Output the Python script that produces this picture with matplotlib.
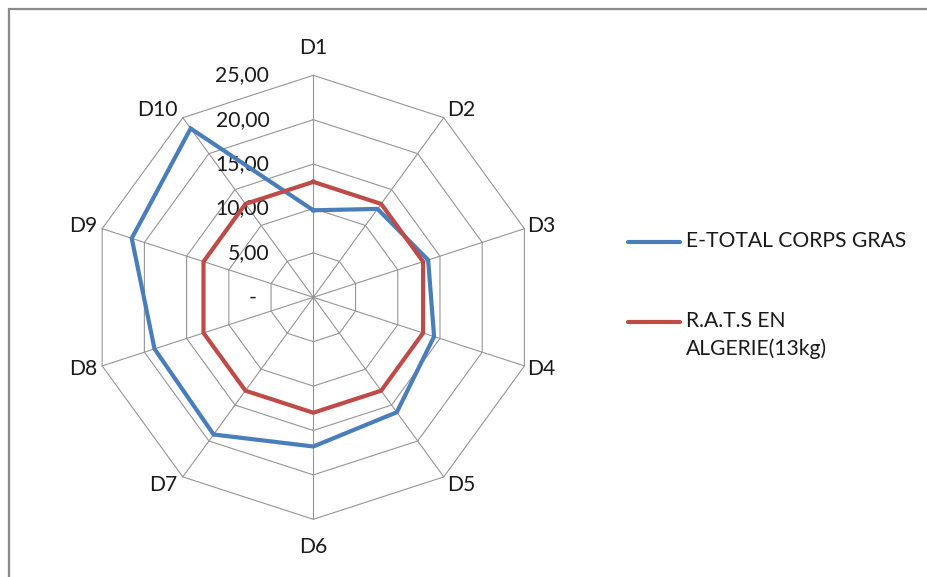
import numpy as np
import matplotlib.pyplot as plt
from matplotlib.patches import Rectangle
from matplotlib.transforms import ScaledTranslation

plt.rcParams['font.family'] = ['Lato', 'DejaVu Sans']

categories = ['D1', 'D2', 'D3', 'D4', 'D5', 'D6', 'D7', 'D8', 'D9', 'D10']
total_corps_gras = [9.8, 12.3, 13.6, 14.3, 16.0, 16.8, 19.1, 18.8, 21.5, 23.5]
rats_algerie = [13.0] * 10
ring_values = [0, 5, 10, 15, 20, 25]
ring_labels = ['-', '5,00', '10,00', '15,00', '20,00', '25,00']
series_names = ['E-TOTAL CORPS GRAS', 'R.A.T.S EN\nALGERIE(13kg)']
series_colors = ['#4A7EBB', '#BE4B48']

W, H = 927, 577
fig = plt.figure(figsize=(W / 100, H / 100), dpi=100)
ax = fig.add_axes([0, 0, 1, 1])
ax.set_axis_off()

# pixel scale: centre of the web and px per unit
cx, cy, ppu = 313.3, 297.3, 8.88
ax.set_xlim(-cx / ppu, (W - cx) / ppu)
ax.set_ylim(-(H - cy) / ppu, cy / ppu)

n = len(categories)
theta = np.arange(n) * 2 * np.pi / n  # clockwise from the top
sx, sy = np.sin(theta), np.cos(theta)

def xy(vals):
    v = np.asarray(vals, dtype=float)
    x, y = v * sx, v * sy
    return np.append(x, x[0]), np.append(y, y[0])

txt_color = '#1a1a1a'
rmax = ring_values[-1]
grid_kw = dict(color='#959595', lw=0.8, zorder=1)
for r in ring_values[1:]:
    gx, gy = xy([r] * n)
    ax.plot(gx, gy, **grid_kw)
for i in range(n):
    ax.plot([0, rmax * sx[i]], [0, rmax * sy[i]], **grid_kw)

# ring value labels left of the D1 spoke
for r, lab in zip(ring_values, ring_labels):
    pad = 0 if r else 13
    ax.text(-(44 + pad) / ppu, r, lab, ha='right', va='center',
            fontsize=15.2, color=txt_color)

# category labels just outside the outer ring (offsets in pixels)
for i, lab in enumerate(categories):
    x, y = rmax * sx[i], rmax * sy[i]
    if abs(sx[i]) < 1e-6:
        ha, dx, dy = 'center', 0, 27.5 * np.sign(sy[i])
    elif sx[i] > 0:
        ha, dx, dy = 'left', 3, 9.4 * sy[i]
    else:
        ha, dx, dy = 'right', -5, 9.4 * sy[i]
    ax.annotate(lab, (x, y), xytext=(dx * 0.72, dy * 0.72),
                textcoords='offset points', ha=ha, va='center',
                fontsize=15.2, color=txt_color)

for vals, col in zip([total_corps_gras, rats_algerie], series_colors):
    px, py = xy(vals)
    ax.plot(px, py, color=col, lw=3, solid_joinstyle='miter', zorder=3)

# legend drawn beside the web
leg_y = [241.7, 322]
shift = ScaledTranslation(0, 11 / 100, fig.dpi_scale_trans)
for yy, name, col in zip(leg_y, series_names, series_colors):
    y0 = (cy - yy) / ppu
    ax.plot([(628 - cx) / ppu, (680 - cx) / ppu], [y0, y0], color=col,
            lw=3, solid_capstyle='round')
    ax.text((686 - cx) / ppu, y0, name, ha='left', va='top', fontsize=15.2,
            color=txt_color, linespacing=1.45, transform=ax.transData + shift)

# chart area border
fig.add_artist(Rectangle((8.5 / W, -0.1), 1.2, (H - 9) / H + 0.1,
                         transform=fig.transFigure, fill=False,
                         edgecolor='#8a8a8a', lw=1.6))

fig.savefig('out.png', dpi=100)
